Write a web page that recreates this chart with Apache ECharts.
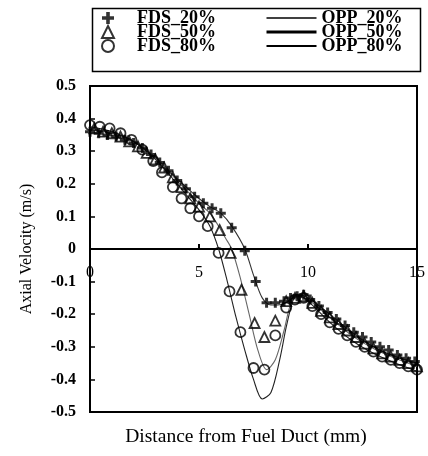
<!DOCTYPE html>
<html>
<head>
<meta charset="utf-8">
<script src="https://cdn.jsdelivr.net/npm/echarts@6/dist/echarts.min.js"></script>
<style>
  html, body { margin: 0; padding: 0; background: #fff; }
  #chart { width: 428px; height: 456px; }
</style>
</head>
<body>
<div id="chart"></div>
<script>
// FDS markers, [distance mm, axial velocity m/s]
const fds20 = [
  [0, 0.36], [0.4, 0.355], [0.8, 0.35], [1.2, 0.345], [1.6, 0.335], [2.0, 0.325],
  [2.4, 0.31], [2.8, 0.29], [3.2, 0.265], [3.6, 0.24], [4.0, 0.21], [4.4, 0.185],
  [4.8, 0.16], [5.2, 0.14], [5.6, 0.125], [6.0, 0.11], [6.5, 0.065], [7.1, -0.005],
  [7.6, -0.1], [8.1, -0.165], [8.5, -0.165], [8.9, -0.16], [9.2, -0.15], [9.5, -0.145],
  [9.8, -0.14], [10.1, -0.155], [10.5, -0.175], [10.9, -0.195], [11.3, -0.215],
  [11.7, -0.235], [12.1, -0.255], [12.5, -0.27], [12.9, -0.285], [13.3, -0.3],
  [13.7, -0.31], [14.1, -0.325], [14.5, -0.335], [14.9, -0.345]
]
const fds50 = [
  [0.2, 0.37], [0.6, 0.36], [1.0, 0.355], [1.4, 0.345], [1.8, 0.33], [2.2, 0.315],
  [2.6, 0.295], [3.0, 0.275], [3.4, 0.25], [3.8, 0.22], [4.2, 0.19], [4.6, 0.155],
  [5.0, 0.13], [5.5, 0.1], [5.95, 0.058], [6.45, -0.012], [6.95, -0.125], [7.55, -0.227],
  [8.0, -0.27], [8.5, -0.22], [9.0, -0.16], [9.4, -0.15], [9.8, -0.145], [10.2, -0.165],
  [10.6, -0.19], [11.0, -0.21], [11.4, -0.23], [11.8, -0.25], [12.2, -0.27], [12.6, -0.29],
  [13.0, -0.305], [13.4, -0.32], [13.8, -0.33], [14.2, -0.34], [14.6, -0.35], [15.0, -0.36]
]
const fds80 = [
  [0, 0.38], [0.45, 0.375], [0.9, 0.37], [1.4, 0.355], [1.9, 0.335], [2.4, 0.305],
  [2.9, 0.27], [3.3, 0.235], [3.8, 0.19], [4.2, 0.155], [4.6, 0.125], [5.0, 0.1],
  [5.4, 0.07], [5.9, -0.012], [6.4, -0.13], [6.9, -0.255], [7.5, -0.365], [8.0, -0.37],
  [8.5, -0.265], [9.0, -0.18], [9.4, -0.155], [9.8, -0.15], [10.2, -0.175], [10.6, -0.2],
  [11.0, -0.225], [11.4, -0.245], [11.8, -0.265], [12.2, -0.285], [12.6, -0.3],
  [13.0, -0.315], [13.4, -0.33], [13.8, -0.34], [14.2, -0.35], [14.6, -0.36], [15.0, -0.37]
]

// OPP model curves
const opp20 = [
  [0, 0.365], [1, 0.355], [2, 0.33], [3, 0.28], [4, 0.215], [5, 0.155], [5.5, 0.13],
  [6.0, 0.11], [6.5, 0.07], [7.1, 0.0], [7.5, -0.08], [7.9, -0.15], [8.3, -0.172],
  [8.8, -0.17], [9.2, -0.155], [9.5, -0.14], [10, -0.15], [11, -0.2], [12, -0.255],
  [13, -0.3], [14, -0.33], [15, -0.35]
]
const opp50 = [
  [0, 0.37], [1, 0.355], [2, 0.33], [3, 0.28], [4, 0.21], [5, 0.14], [5.5, 0.11],
  [5.9, 0.07], [6.2, 0.035], [6.5, 0.0], [6.9, -0.09], [7.3, -0.2], [7.7, -0.31],
  [8.1, -0.37], [8.5, -0.34], [8.9, -0.25], [9.2, -0.17], [9.5, -0.145], [10, -0.155],
  [11, -0.21], [12, -0.265], [13, -0.305], [14, -0.335], [15, -0.36]
]
const opp80 = [
  [0, 0.375], [1, 0.36], [2, 0.33], [3, 0.275], [4, 0.2], [4.5, 0.16], [5, 0.12],
  [5.5, 0.07], [5.9, 0.0], [6.3, -0.1], [6.7, -0.21], [7.1, -0.31], [7.5, -0.4],
  [7.9, -0.46], [8.3, -0.44], [8.7, -0.34], [9.0, -0.24], [9.3, -0.16], [9.5, -0.14],
  [10, -0.16], [11, -0.225], [12, -0.28], [13, -0.32], [14, -0.35], [15, -0.375]
]

const fdsNames = ['FDS_20%', 'FDS_50%', 'FDS_80%']
const oppNames = ['OPP_20%', 'OPP_50%', 'OPP_80%']
const oppLegendWidths = [1.5, 3, 2]
const xLabel = 'Distance from Fuel Duct (mm)'
const yLabel = 'Axial Velocity (m/s)'

const SERIF = '"Liberation Serif", "Times New Roman", serif'
const PLUS = 'path://M3.5,0H6.5V3.5H10V6.5H6.5V10H3.5V6.5H0V3.5H3.5Z'

// plot box, px
const GRID = { left: 90, right: 10, top: 86, bottom: 44 }
const plotH = 456 - GRID.top - GRID.bottom

const openMark = { color: 'transparent', borderColor: '#000', borderWidth: 1.8 }

function fdsSeries(name, data, symbol, itemStyle) {
  return {
    name,
    type: 'scatter',
    data,
    symbol,
    symbolSize: 10,
    itemStyle,
    z: 3
  }
}

function oppSeries(name, data, color) {
  return {
    name,
    type: 'line',
    data,
    smooth: 0.3,
    symbol: 'none',
    itemStyle: { color: '#000' },
    lineStyle: { color, width: 1.1 },
    z: 2
  }
}

const legendText = { fontFamily: SERIF, fontWeight: 'bold', fontSize: 18, color: '#000' }

const chart = echarts.init(document.getElementById('chart'))

chart.setOption({
  animation: false,
  backgroundColor: '#fff',
  grid: {
    ...GRID,
    show: true, borderColor: '#000', borderWidth: 2
  },
  legend: [
    {
      left: 96, top: 4, orient: 'vertical',
      itemWidth: 12, itemHeight: 12, itemGap: -4,
      data: fdsNames,
      textStyle: { ...legendText, padding: [0, 0, 0, 18] }
    },
    {
      left: 260, top: 4, orient: 'vertical',
      itemWidth: 50, itemHeight: 12, itemGap: -4,
      data: oppNames.map((name, i) => ({
        name,
        itemStyle: { color: 'transparent', borderColor: 'transparent', borderWidth: 0 },
        lineStyle: { width: oppLegendWidths[i], color: '#000' }
      })),
      textStyle: legendText
    }
  ],
  graphic: [
    {
      type: 'rect', left: 90, top: 6,
      shape: { width: 328, height: 63 },
      style: { fill: 'none', stroke: '#000', lineWidth: 1.5 }
    },
    {
      type: 'text', x: 246, y: 437,
      style: {
        text: xLabel, fontFamily: SERIF, fontSize: 19.5, fill: '#000',
        textAlign: 'center', textVerticalAlign: 'middle'
      }
    }
  ],
  xAxis: {
    type: 'value', min: 0, max: 15, interval: 5,
    // move the whole axis up onto y = 0
    offset: -plotH / 2,
    axisLine: { onZero: false, lineStyle: { color: '#000', width: 2 } },
    axisTick: { inside: true, length: 5, lineStyle: { color: '#000', width: 2 } },
    axisLabel: { margin: 16, fontFamily: SERIF, fontSize: 16, color: '#000' },
    splitLine: { show: false }
  },
  yAxis: {
    type: 'value', min: -0.5, max: 0.5, interval: 0.1,
    name: yLabel, nameLocation: 'middle', nameGap: 55,
    nameTextStyle: { fontFamily: SERIF, fontSize: 16, color: '#000' },
    axisLine: { lineStyle: { color: '#000', width: 2 } },
    axisTick: { inside: true, length: 5, lineStyle: { color: '#000', width: 1.5 } },
    axisLabel: {
      margin: 14, fontFamily: SERIF, fontWeight: 'bold', fontSize: 16, color: '#000',
      formatter: v => {
        const r = Math.round(v * 10) / 10
        return r === 0 ? '0' : r.toFixed(1)
      }
    },
    splitLine: { show: false }
  },
  series: [
    oppSeries(oppNames[0], opp20, '#333'),
    oppSeries(oppNames[1], opp50, '#666'),
    oppSeries(oppNames[2], opp80, '#222'),
    fdsSeries(fdsNames[0], fds20, PLUS, { color: '#000' }),
    fdsSeries(fdsNames[1], fds50, 'triangle', openMark),
    fdsSeries(fdsNames[2], fds80, 'circle', openMark)
  ]
})
</script>
</body>
</html>
